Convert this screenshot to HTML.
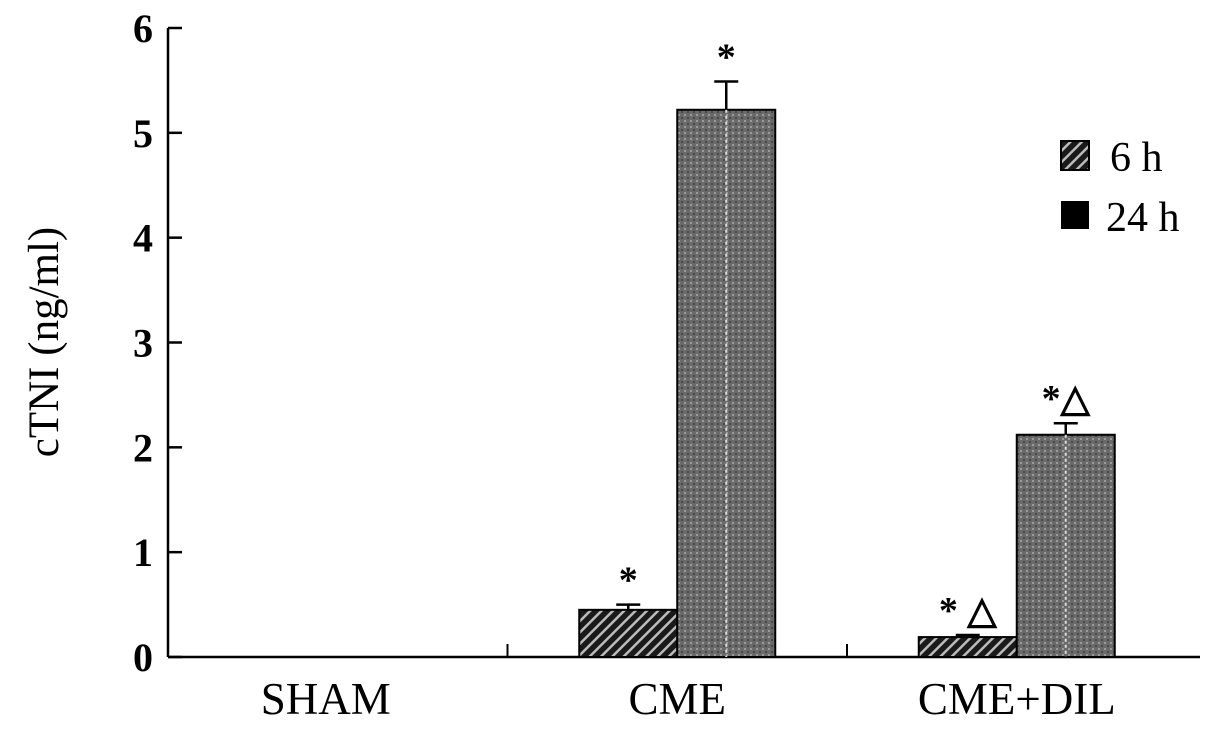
<!DOCTYPE html>
<html><head><meta charset="utf-8"><style>
body{margin:0;background:#fff}
svg{display:block}
text{font-family:"Liberation Serif",serif;fill:#000}
</style></head><body>
<svg id="chart" width="1205" height="738" viewBox="0 0 1205 738">
<defs>
<pattern id="hatch" width="8" height="8" patternUnits="userSpaceOnUse" patternTransform="rotate(45)">
<rect width="8" height="8" fill="#1a1a1a"/><rect x="0" width="2.5" height="8" fill="#bbb"/>
</pattern>
<pattern id="dots" width="6" height="6" patternUnits="userSpaceOnUse">
<rect width="6" height="6" fill="#6a6a6a"/><rect x="0" y="0" width="2" height="2" fill="#9a9a9a"/><rect x="3" y="3" width="2" height="2" fill="#4a4a4a"/>
</pattern>
</defs>
<g id="axes"></g>
<g id="bars"></g>
<text transform="translate(58,342) rotate(-90)" text-anchor="middle" font-size="43">cTNI (ng/ml)</text>
<g>
<rect x="1061" y="141" width="28" height="29" fill="url(#hatch)" stroke="#000" stroke-width="2"/>
<text x="1110" y="171" font-size="42">6 h</text>
<rect x="1061" y="201" width="28" height="28" fill="#000"/>
<text x="1106" y="231" font-size="42">24 h</text>
</g>
</svg>
<script>
const categories=["SHAM","CME","CME+DIL"];
const values6h=[0,0.45,0.19];
const values24h=[0,5.22,2.12];
const err6h=[0,0.05,0.02];
const err24h=[0,0.27,0.11];
const marks6h=["","*","* \u25B3"];
const marks24h=["","*","*\u25B3"];
const yTicks=[0,1,2,3,4,5,6];
const NS="http://www.w3.org/2000/svg";
const x0=168,x1=1200,yBase=657,yTop=28;
const y=v=>yBase-v*(yBase-yTop)/6;
const catW=339.5;
const cx=i=>x0+catW*(i+0.5);
function mk(tag,attrs,parent){const e=document.createElementNS(NS,tag);for(const k in attrs)e.setAttribute(k,attrs[k]);parent.appendChild(e);return e;}
const ax=document.getElementById('axes'),bars=document.getElementById('bars');
let l=mk('line',{x1:x0,y1:yTop,x2:x0,y2:yBase,stroke:'#000','stroke-width':2.5},ax);


l=mk('line',{x1:x0,y1:yBase,x2:x1,y2:yBase,stroke:'#000','stroke-width':2.5},ax);


yTicks.forEach(t=>{
 let tk=mk('line',{x1:x0,y1:y(t),x2:x0+14,y2:y(t),stroke:'#000','stroke-width':2.5},ax);
 
 
 let tx=mk('text',{x:x0-15,y:y(t)+14,'text-anchor':'end','font-size':40,'font-weight':'bold'},ax);
 tx.textContent=t;
 
 
});
for(let i=1;i<3;i++){
 let tk=mk('line',{x1:x0+catW*i,y1:yBase,x2:x0+catW*i,y2:yBase-13,stroke:'#000','stroke-width':2},ax);
 
 
}
const bw=98;
categories.forEach((c,i)=>{
 let tx=mk('text',{x:cx(i)-(i===0?12:0),y:714,'text-anchor':'middle','font-size':45},ax);
 tx.textContent=c;
 
 
 [[values6h,err6h,marks6h,'url(#hatch)',cx(i)-bw,'6h'],[values24h,err24h,marks24h,'url(#dots)',cx(i),'24h']].forEach(([vals,errs,mks,fill,bx,nm])=>{
  const v=vals[i]; if(v<=0)return;
  let r=mk('rect',{x:bx,y:y(v),width:bw,height:yBase-y(v),fill:fill,stroke:'#000','stroke-width':2},bars);
  
  
  if(nm==='24h'){mk('line',{x1:bx+bw/2,y1:y(v),x2:bx+bw/2,y2:yBase,stroke:'#ddd','stroke-width':2,'stroke-dasharray':'3 3'},bars);}
  const et=y(v+errs[i]);
  let e=mk('path',{d:`M${bx+bw/2},${y(v)}V${et}M${bx+bw/2-12},${et}H${bx+bw/2+12}`,stroke:'#000','stroke-width':2.5,fill:'none'},bars);
  
  
  let m=mk('text',{x:bx+bw/2,y:et-12,'text-anchor':'middle','font-size':38,'font-weight':'bold'},bars);
  m.textContent=mks[i];
  
  
 });
});
</script>
</body></html>
